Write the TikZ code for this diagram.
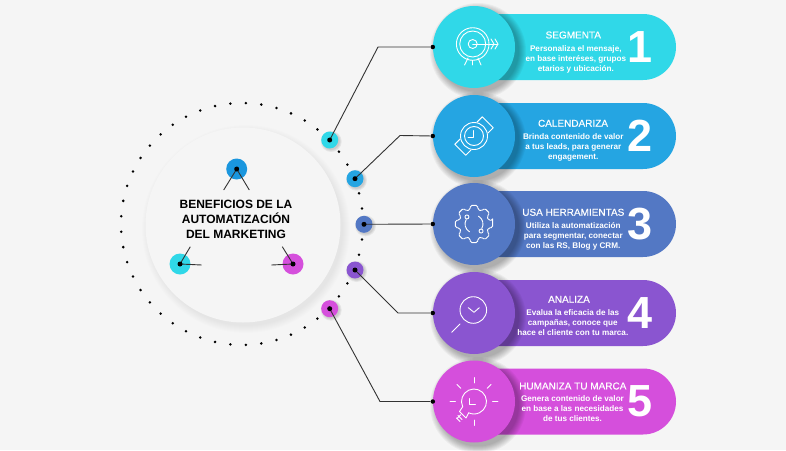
\documentclass[tikz,border=0pt]{standalone}
\usepackage{fontspec}
\setmainfont{Liberation Sans}
\newfontfamily\headfont[FakeBold=.3]{Liberation Sans}
\definecolor{bgcol}{HTML}{F5F5F5}
\definecolor{rowa}{HTML}{30D8E8}
\definecolor{rowb}{HTML}{25A5E2}
\definecolor{rowc}{HTML}{5378C4}
\definecolor{rowd}{HTML}{8A55D0}
\definecolor{rowe}{HTML}{D54FDC}
\definecolor{topblue}{HTML}{1A96DE}
\tikzset{
  bigdisc/.style={circle,minimum size=82pt,inner sep=0pt},
  hubdisc/.style={circle,minimum size=17pt,inner sep=0pt},
  markdisc/.style={circle,minimum size=21pt,inner sep=0pt},
  blackdot/.style={circle,fill=black,minimum size=5pt,inner sep=0pt},
  wire/.style={line width=.9pt,black!80},
  icon/.style={white,line width=.9pt,line cap=round,line join=round},
  headtext/.style={white,inner sep=0pt,font=\fontsize{10}{12}\selectfont\headfont},
  bodytext/.style={white,inner sep=0pt,align=center,font=\fontsize{8.15}{10}\selectfont\bfseries},
  numtext/.style={white,inner sep=0pt,font=\fontsize{45}{45}\selectfont\bfseries},
  titletext/.style={black,inner sep=0pt,align=center,font=\fontsize{12}{15.2}\selectfont\bfseries},
}
\begin{document}
\begin{tikzpicture}[x=1pt,y=-1pt]
\fill[bgcol] (0,0) rectangle (786,450);
\useasboundingbox (0,0) rectangle (786,450);

% ring of dots
\foreach \k in {0,...,48}
  \fill[black] ({242+121*cos(\k*7.347)},{224+121*sin(\k*7.347)}) circle (1.4);

% centre disc
\foreach \r in {104,103,...,97}
  \fill[black,opacity=.006] (246,229) circle (\r);
\node[circle,fill=bgcol,minimum size=195pt,inner sep=0pt] (core) at (243,225) {};
\node[titletext] (title) at (236,219.6) {BENEFICIOS DE LA\\AUTOMATIZACIÓN\\DEL MARKETING};

% marks on the centre disc
\node[markdisc,fill=topblue] (marktop) at (236.7,169) {};
\node[markdisc,fill=rowa] (markleft) at (180,264) {};
\node[markdisc,fill=rowe] (markright) at (293,264) {};
\coordinate (ta) at (223.7,190);
\coordinate (tb) at (249.3,190);
\coordinate (la) at (190.3,246.7);
\coordinate (lb) at (201.7,265);
\coordinate (ra) at (282.3,246.7);
\coordinate (rb) at (271.3,265);
\draw[wire] (ta) -- (marktop.center) -- (tb);
\draw[wire] (la) -- (markleft.center) -- (lb);
\draw[wire] (ra) -- (markright.center) -- (rb);
\foreach \m in {marktop,markleft,markright}
  \node[blackdot] at (\m) {};

% rows
\foreach \n/\yc/\col/\hx/\hy/\bx/\by/\head/\body in {
  1/47/rowa/573.3/35/575.8/59/SEGMENTA/{Personaliza el mensaje,\\en base interéses, grupos\\etarios y ubicación.},
  2/136/rowb/573/123.3/573.3/147/CALENDARIZA/{Brinda contenido de valor\\a tus leads, para generar\\engagement.},
  3/224/rowc/573.3/212.3/573.3/236.7/USA HERRAMIENTAS/{Utiliza la automatización\\para segmentar, conectar\\con las RS, Blog y CRM.},
  4/313/rowd/569/299.3/572.8/322.7/ANALIZA/{Evalua la eficacia de las\\campañas, conoce que\\hace el cliente con tu marca.},
  5/401.5/rowe/572.8/386/572.5/408.7/HUMANIZA TU MARCA/{Genera contenido de valor\\en base a las necesidades\\de tus clientes.}}
{
  \fill[\col] (490,\yc-33) -- (643,\yc-33) arc (-90:90:33) -- (490,\yc+33) -- cycle;
  \foreach \r in {48,47,...,41}
    \fill[black,opacity=.04] (478,\yc+4) circle (\r);
  \node[bigdisc,fill=\col] (disc\n) at (474,\yc) {};
  \node[headtext] (head\n) at (\hx,\hy) {\head};
  \node[bodytext] (body\n) at (\bx,\by) {\body};
  \node[numtext] (num\n) at (640,\yc) {\n};
  \node[blackdot,minimum size=4.5pt] (port\n) at (disc\n.west) {};
}

% hubs and wires
\foreach \n/\hx/\hy/\col in {1/329.7/140/rowa,2/355/178.7/rowb,3/364/224.3/rowc,4/355/270/rowd,5/329.7/308.7/rowe}
{
  \foreach \r in {10.5,9.5,8.5}
    \fill[black,opacity=.06] (\hx+1.5,\hy+1.5) circle (\r);
  \node[hubdisc,fill=\col] (hub\n) at (\hx,\hy) {};
}
\coordinate (benda) at (378,47);
\coordinate (bendb) at (400,135.5);
\coordinate (bendd) at (398,313);
\coordinate (bende) at (380,401.5);
\draw[wire] (hub1.center) -- (benda) -- (port1);
\draw[wire] (hub2.center) -- (bendb) -- (port2);
\draw[wire] (hub3.center) -- (port3);
\draw[wire] (hub4.center) -- (bendd) -- (port4);
\draw[wire] (hub5.center) -- (bende) -- (port5);
\foreach \n in {1,...,5}
  \node[blackdot] at (hub\n) {};

% target icon
\begin{scope}[shift={(disc1.center)},icon]
\draw (-1.3,-3) circle (16.3);
\draw (-1.3,-3) circle (13);
\draw (-1.3,-3) circle (4.5);
\draw (-1.3,-3) -- (24,-3);
\draw (17,-8) -- (20,-3) -- (17,2);
\draw (21,-8) -- (24,-3) -- (21,2);
\draw (-6,11) -- (-9.5,18);
\draw (-1.3,13.3) -- (-1.3,18);
\draw (4,11) -- (7,18);
\end{scope}

% watch icon
\begin{scope}[shift={(disc2.center)},icon]
\begin{scope}[rotate=45]
\draw (-12,-7.7) -- (-19.5,-7.7) -- (-19.5,7.7) -- (-12,7.7);
\draw (12,-7.7) -- (19.5,-7.7) -- (19.5,7.7) -- (12,7.7);
\end{scope}
\fill[rowb] (0,0) circle (13.5);
\draw (0,0) circle (13.5);
\draw (0,0) circle (9.5);
\draw (-1,-5.5) -- (-1,1) -- (-6,1);
\end{scope}

% gear icon
\begin{scope}[shift={(disc3.center)},icon]
\draw[rounded corners=1.5pt] (-11:19)
  \foreach \a in {0,45,...,315} {
    -- (\a-11:19) -- (\a+11:19) -- (\a+15:15) -- (\a+30:15)
  } -- cycle;
\draw (-60:9) arc (-60:30:9);
\draw (120:9) arc (120:210:9);
\draw (-135:10) circle (2);
\draw (45:10) circle (2);
\end{scope}

% magnifier icon
\begin{scope}[shift={(disc4.center)},icon]
\draw (-.7,-3) circle (13.3);
\draw (-14,11) -- (-22.3,19.3);
\draw (-5.7,-5.3) -- (0,-.7) -- (5.3,-5.3);
\end{scope}

% bulb icon
\begin{scope}[shift={(disc5.center)},icon]
\draw (155:12.5) arc (155:475:12.5);
\draw (155:12.5) -- (-14.5,10) -- (-8,16.5) -- (115:12.5);
\draw (-16,14) -- (-12,18);
\draw (-17.5,16.5) -- (-14,20);
\draw (-4.5,-3) -- (-4.5,2.5) -- (1.5,2.5);
\foreach \a in {0,45,90,135,180,225,270}
  \draw (\a+90:18.5) -- (\a+90:24);
\end{scope}
\end{tikzpicture}
\end{document}
